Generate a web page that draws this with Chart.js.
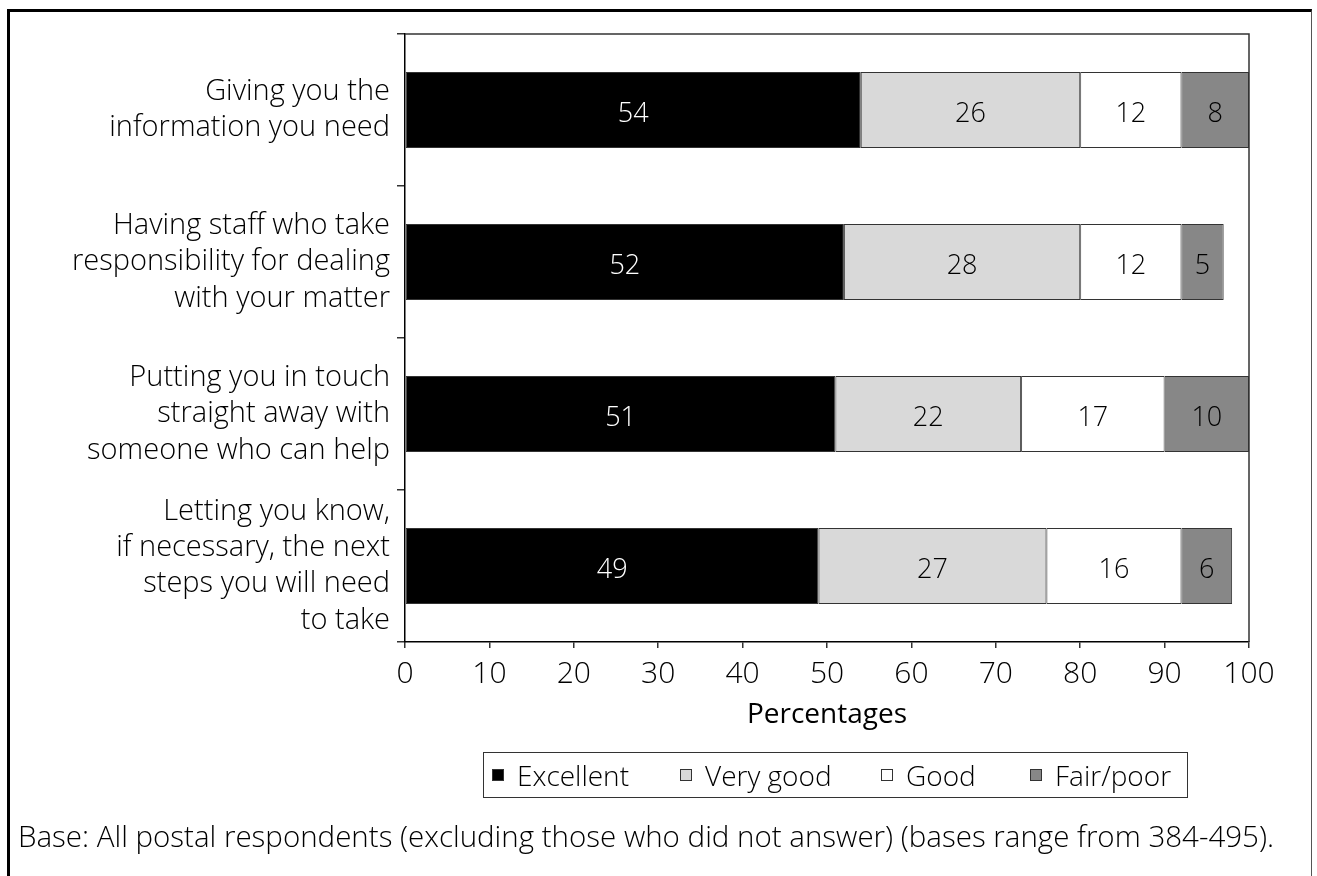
<!DOCTYPE html>
<html>
<head>
<meta charset="utf-8">
<script src="https://cdn.jsdelivr.net/npm/chart.js@4.4.1/dist/chart.umd.min.js"></script>
<style>
  html, body { margin: 0; padding: 0; background: #fff; }
  body { width: 1317px; height: 876px; position: relative; overflow: hidden; font-family: "Open Sans", sans-serif; }
  #frame { position: absolute; left: 7px; top: 9px; width: 1301px; height: 900px; border-left: 3px solid #000; border-top: 3px solid #000; border-right: 1px solid #555; }
  #wrap { position: absolute; left: 0; top: 0; width: 1317px; height: 876px; }
  #legend { position: absolute; left: 483px; top: 752px; width: 705px; height: 46px; box-sizing: border-box; border: 1px solid #333; }
  #legend .item { position: absolute; top: 0; height: 44px; display: flex; align-items: center; font-size: 28px; font-weight: 300; color: #000; white-space: nowrap; }
  #legend .box { width: 10px; height: 10px; border: 1px solid #333; margin-right: 13px; }
  #note { position: absolute; left: 18px; top: 816px; font-size: 29.5px; line-height: 40px; font-weight: 300; color: #000; white-space: nowrap; }
</style>
</head>
<body>
<div id="frame"></div>
<div id="wrap"><canvas id="chart" width="1317" height="876"></canvas></div>
<div id="legend"></div>
<div id="note">Base: All postal respondents (excluding those who did not answer) (bases range from 384-495).</div>
<script>
const categories = [
    ['Giving you the', 'information you need'],
    ['Having staff who take', 'responsibility for dealing', 'with your matter'],
    ['Putting you in touch', 'straight away with', 'someone who can help'],
    ['Letting you know,', 'if necessary, the next', 'steps you will need', 'to take']
];
const excellent = [54, 52, 51, 49];
const veryGood = [26, 28, 22, 27];
const good = [12, 12, 17, 16];
const fairPoor = [8, 5, 10, 6];
const xTicks = [0, 10, 20, 30, 40, 50, 60, 70, 80, 90, 100];

const FONT = '"Open Sans", sans-serif';
// left offset of each legend entry inside the legend box
const legendSlots = [8, 196, 397, 546];

// value labels in the middle of each segment
const segmentLabels = {
    id: 'segmentLabels',
    afterDatasetsDraw(chart) {
        const ctx = chart.ctx;
        ctx.save();
        ctx.font = '300 27px ' + FONT;
        ctx.textAlign = 'center';
        ctx.textBaseline = 'middle';
        chart.data.datasets.forEach((ds, i) => {
            chart.getDatasetMeta(i).data.forEach((bar, j) => {
                const p = bar.getCenterPoint();
                ctx.fillStyle = ds.labelColor;
                ctx.fillText(ds.data[j], p.x, p.y + 4);
            });
        });
        ctx.restore();
    }
};

// top and right edges of the plot box
const plotBox = {
    id: 'plotBox',
    afterDraw(chart) {
        const a = chart.chartArea;
        const ctx = chart.ctx;
        ctx.save();
        ctx.strokeStyle = '#333';
        ctx.lineWidth = 1.5;
        ctx.beginPath();
        ctx.moveTo(a.left, a.top);
        ctx.lineTo(a.right, a.top);
        ctx.lineTo(a.right, a.bottom);
        ctx.stroke();
        ctx.restore();
    }
};

function buildLegend(chart) {
    const el = document.getElementById('legend');
    el.innerHTML = '';
    chart.data.datasets.forEach((ds, i) => {
        const item = document.createElement('div');
        item.className = 'item';
        item.style.left = legendSlots[i] + 'px';
        const box = document.createElement('span');
        box.className = 'box';
        box.style.background = ds.backgroundColor;
        item.appendChild(box);
        item.appendChild(document.createTextNode(ds.label));
        el.appendChild(item);
    });
}

const ctx = document.getElementById('chart').getContext('2d');
const chart = new Chart(ctx, {
    type: 'bar',
    data: {
        labels: categories,
        datasets: [
            { label: 'Excellent', data: excellent, backgroundColor: '#000000', labelColor: '#ffffff' },
            { label: 'Very good', data: veryGood, backgroundColor: '#d9d9d9', labelColor: '#000000' },
            { label: 'Good', data: good, backgroundColor: '#ffffff', labelColor: '#000000' },
            { label: 'Fair/poor', data: fairPoor, backgroundColor: '#878787', labelColor: '#000000' }
        ].map(d => Object.assign(d, {
            borderColor: '#333',
            borderWidth: 1,
            borderSkipped: false,
            barPercentage: 0.5,
            categoryPercentage: 1
        }))
    },
    options: {
        indexAxis: 'y',
        responsive: false,
        animation: false,
        layout: { padding: { left: 18, right: 68, top: 34, bottom: 134 } },
        plugins: {
            legend: { display: false },
            tooltip: { enabled: false }
        },
        scales: {
            x: {
                stacked: true,
                min: 0,
                max: 100,
                afterBuildTicks(scale) {
                    scale.ticks = xTicks.map(v => ({ value: v }));
                },
                afterFit(scale) {
                    scale.height = 100;
                },
                grid: { drawOnChartArea: false, tickLength: 6, color: '#333', lineWidth: 1.5 },
                border: { color: '#000', width: 1.5 },
                ticks: { color: '#000', padding: 8, font: { family: FONT, size: 30, weight: '300' } },
                title: {
                    display: true,
                    text: 'Percentages',
                    color: '#000',
                    font: { family: FONT, size: 28, weight: '500' },
                    padding: { top: 0, bottom: 10 }
                }
            },
            y: {
                stacked: true,
                afterFit(scale) {
                    scale.width = 387;
                    // multi-line labels must not push the plot area down
                    scale.paddingTop = 0;
                    scale.paddingBottom = 0;
                },
                grid: { drawOnChartArea: false, tickLength: 8, color: '#333', lineWidth: 1.5 },
                border: { color: '#000', width: 1.5 },
                ticks: { color: '#000', padding: 7, font: { family: FONT, size: 29, weight: '300', lineHeight: 1.25 } }
            }
        }
    },
    plugins: [segmentLabels, plotBox]
});

buildLegend(chart);
</script>
</body>
</html>
